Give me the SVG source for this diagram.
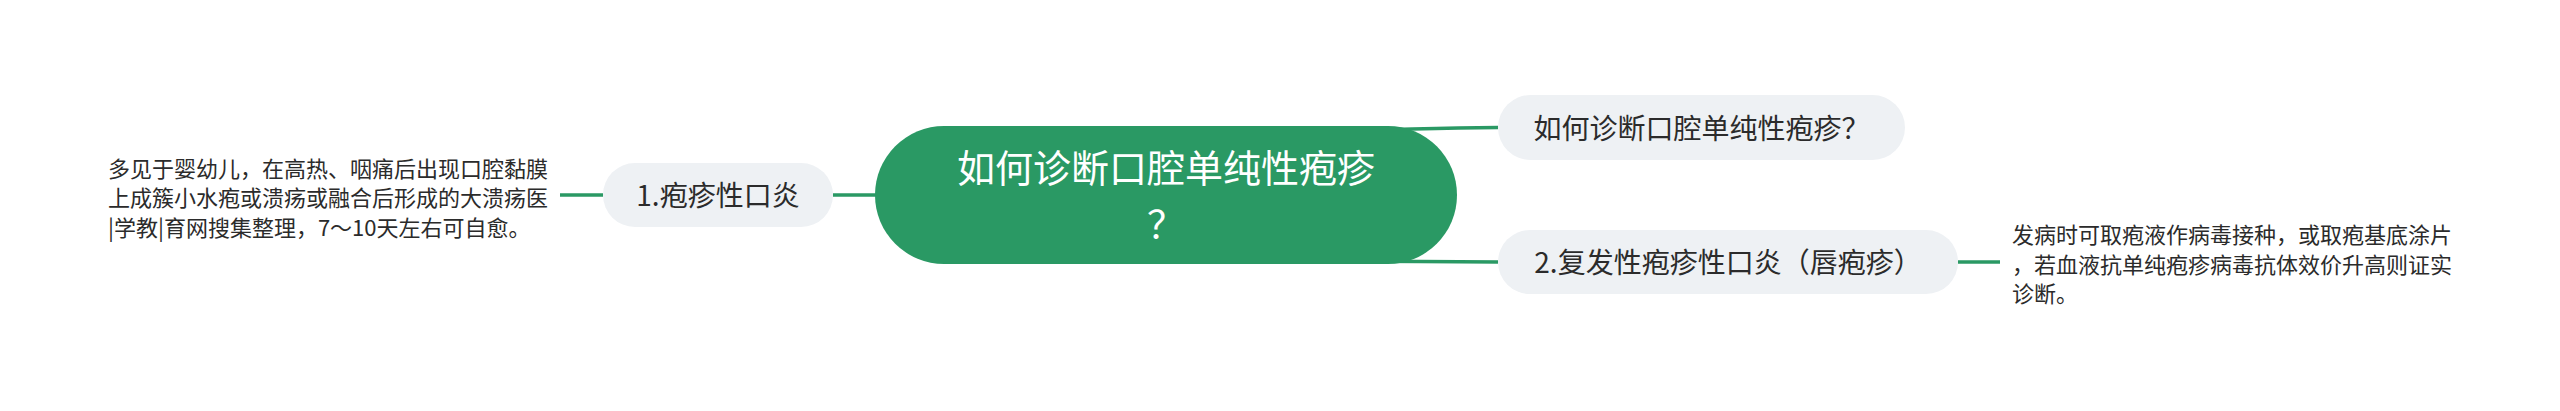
<svg xmlns="http://www.w3.org/2000/svg" width="2560" height="411" viewBox="0 0 2560 411">
<style>
text{font-family:"Noto Sans CJK SC","Noto Sans",sans-serif;fill:#2b2b2b}
.sub{fill:#eef1f4}
.lbl{font-size:28px;text-anchor:middle}
.note{font-size:22px}
.title{font-size:38px;fill:#ffffff;text-anchor:middle}
.conn{fill:none;stroke:#2a9964;stroke-width:3.5;stroke-linecap:butt}
</style>
<rect width="2560" height="411" fill="#ffffff"/>
<g id="connectors">
<path class="conn" d="M1300,131 C1400,131 1420,127.5 1498,127.5"/>
<path class="conn" d="M1300,261 C1400,261 1420,262 1498,262"/>
<path class="conn" d="M833,195 L900,195"/>
<path class="conn" d="M560,195 L603,195"/>
<path class="conn" d="M1958,262 L2000,262"/>
</g>
<g id="root">
<rect x="875" y="126" width="582" height="138" rx="69" fill="#2a9964"/>
<text class="title" x="1166" y="181.5">如何诊断口腔单纯性疱疹</text>
<text class="title" x="1166" y="237.5">？</text>
</g>
<g id="node-q">
<rect class="sub" x="1498" y="95" width="407" height="65" rx="32.5"/>
<text class="lbl" x="1701.5" y="138.5">如何诊断口腔单纯性疱疹？</text>
</g>
<g id="node-2">
<rect class="sub" x="1498" y="230" width="460" height="64" rx="32"/>
<text class="lbl" x="1728" y="272.5">2.复发性疱疹性口炎（唇疱疹）</text>
</g>
<g id="node-1">
<rect class="sub" x="603" y="163" width="230" height="64" rx="32"/>
<text class="lbl" x="718" y="205.5">1.疱疹性口炎</text>
</g>
<g id="note-1">
<text class="note"><tspan x="108" y="176.5">多见于婴幼儿，在高热、咽痛后出现口腔黏膜</tspan><tspan x="108" y="206">上成簇小水疱或溃疡或融合后形成的大溃疡医</tspan><tspan x="108" y="235.5">|学教|育网搜集整理，7～10天左右可自愈。</tspan></text>
</g>
<g id="note-2">
<text class="note"><tspan x="2012" y="243">发病时可取疱液作病毒接种，或取疱基底涂片</tspan><tspan x="2012" y="272.5">，若血液抗单纯疱疹病毒抗体效价升高则证实</tspan><tspan x="2012" y="302">诊断。</tspan></text>
</g>
</svg>
